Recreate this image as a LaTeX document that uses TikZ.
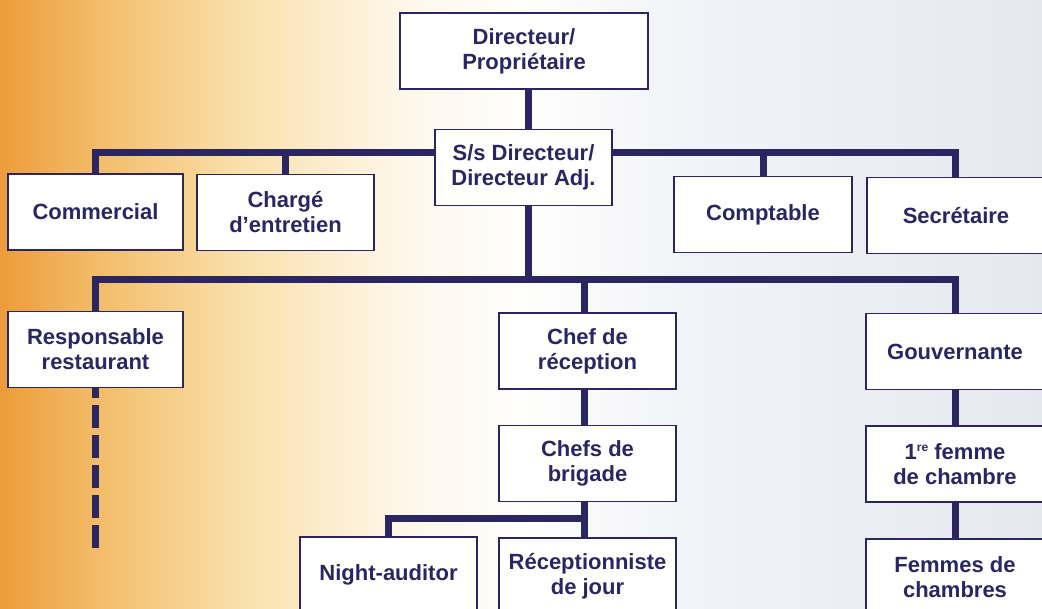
\documentclass[tikz,border=0pt]{standalone}
\usepackage{fontspec}
\setmainfont{Liberation Sans}
\usetikzlibrary{calc}
\definecolor{navy}{HTML}{2B2661}
\definecolor{orA}{RGB}{236,156,58}
\definecolor{orB}{RGB}{243,190,108}
\definecolor{orC}{RGB}{250,226,174}
\definecolor{crm}{RGB}{254,246,232}
\definecolor{wht}{RGB}{254,254,252}
\definecolor{gryA}{RGB}{242,243,248}
\definecolor{gryB}{RGB}{230,232,240}
\pgfdeclarehorizontalshading{bgshade}{100bp}{color(0bp)=(orA); color(25bp)=(orA); color(30bp)=(orB); color(37bp)=(orC); color(44bp)=(crm); color(50bp)=(wht); color(58bp)=(gryA); color(75bp)=(gryB); color(100bp)=(gryB)}
\pgfdeclarelayer{bg}
\pgfdeclarelayer{lines}
\pgfsetlayers{bg,lines,main}
\newcommand{\supre}{\raisebox{0.38em}{\fontsize{9}{9}\selectfont re}}
\begin{document}
\begin{tikzpicture}[x=0.75pt,y=-0.75pt,
  box/.style={draw=navy, line width=1.4pt, fill=white, text=navy,
    minimum width=132.75pt, minimum height=57pt, inner sep=0pt, align=center,
    font=\bfseries\fontsize{16.5}{18.75}\selectfont},
  link/.style={draw=navy, line width=5.25pt, line join=miter},
  dashlink/.style={draw=navy, line width=5.25pt, dash pattern=on 17.25pt off 5.25pt, dash phase=9.75pt}
]
\useasboundingbox (0,0) rectangle (1042,609);
\begin{pgfonlayer}{bg}
  \shade[shading=bgshade] (0,0) rectangle (1042,609);
\end{pgfonlayer}

% nodes
\node[box, minimum width=186pt] (dir) at (524,51) {Directeur/\\Propriétaire};
\node[box] (ssdir) at (523.5,167.5) {S/s Directeur/\\Directeur Adj.};
\node[box, minimum width=131.25pt] (comm) at (95.5,212) {Commercial};
\node[box] (charge) at (285.5,212.5) {Chargé\\d’entretien};
\node[box, minimum width=133.5pt] (compt) at (763,214.5) {Comptable};
\node[box, minimum width=133.5pt] (secr) at (956,215.5) {Secrétaire};
\node[box, minimum width=131.25pt] (resto) at (95.5,349.5) {Responsable\\restaurant};
\node[box] (chefrec) at (587.5,351) {Chef de\\réception};
\node[box] (brig) at (587.5,463.5) {Chefs de\\brigade};
\node[box] (night) at (388.5,575) {Night-auditor};
\node[box] (recj) at (587.5,576) {Réceptionniste\\de jour};
\node[box, minimum width=133.5pt] (gouv) at (955,351.5) {Gouvernante};
\node[box, minimum width=133.5pt] (fem1) at (955,464) {1\supre{} femme\\de chambre};
\node[box, minimum width=133.5pt] (fems) at (955,577) {Femmes de\\chambres};

% reference coordinates
\coordinate (tr) at (528,0);
\coordinate (bA) at (0,153);
\coordinate (bB) at (0,280);
\coordinate (bC) at (0,518);
\coordinate (cr) at (584,0);
\coordinate (rt) at (955,0);
\coordinate (rs) at (95,0);
\coordinate (dend) at (95,548);

\begin{pgfonlayer}{lines}
  % director to deputy
  \draw[link] (dir.south -| tr) -- (ssdir.north -| tr);
  % first bar
  \draw[link] (comm.north -| rs) -- (bA -| rs) -- (bA -| rt) -- (secr.north -| rt);
  \draw[link] (charge.north) -- (charge.north |- bA);
  \draw[link] (compt.north) -- (compt.north |- bA);
  % trunk to second bar
  \draw[link] (ssdir.south -| tr) -- (bB -| tr);
  \draw[link] (resto.north -| rs) -- (bB -| rs) -- (bB -| rt) -- (gouv.north -| rt);
  \draw[link] (chefrec.north -| cr) -- (bB -| cr);
  % reception branch
  \draw[link] (chefrec.south -| cr) -- (brig.north -| cr);
  \draw[link] (brig.south -| cr) -- (recj.north -| cr);
  \draw[link] (bC -| cr) -- (bC -| night.north) -- (night.north);
  % housekeeping branch
  \draw[link] (gouv.south -| rt) -- (fem1.north -| rt);
  \draw[link] (fem1.south -| rt) -- (fems.north -| rt);
  % restaurant dashed
  \draw[dashlink] (resto.south -| rs) -- (dend);
\end{pgfonlayer}
\end{tikzpicture}
\end{document}
